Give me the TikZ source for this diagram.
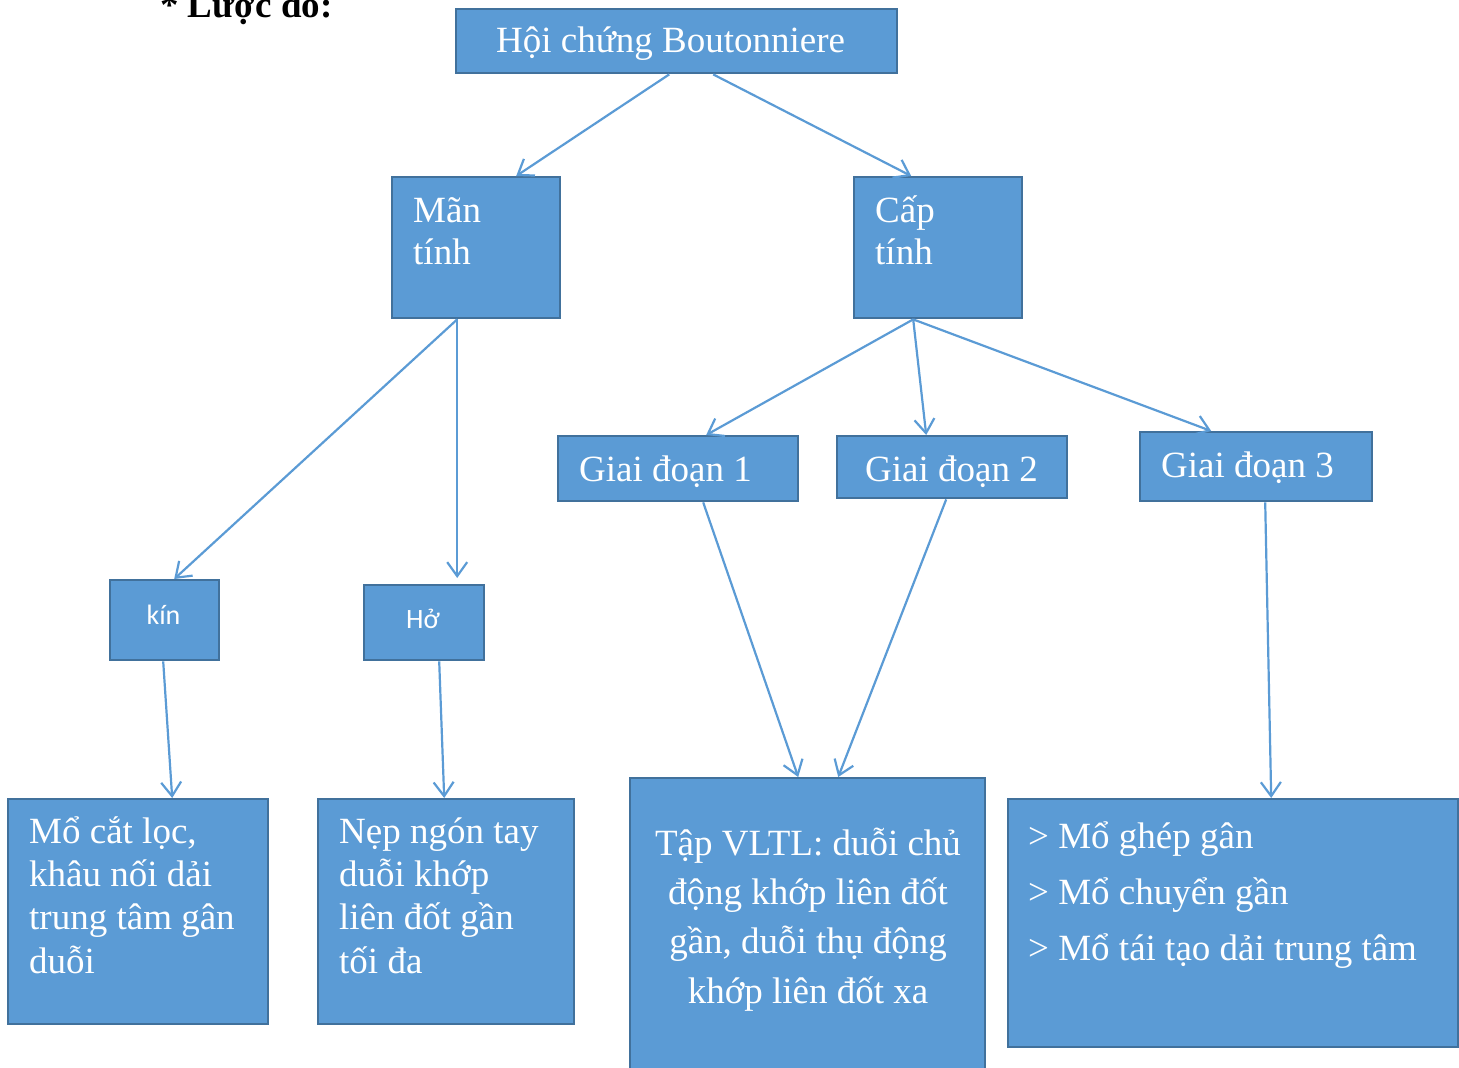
\documentclass[tikz,border=0pt]{standalone}
\usepackage{fontspec}
\setmainfont{Liberation Serif}
\newfontfamily\sansf{Carlito}
\usetikzlibrary{arrows.meta}
\definecolor{boxfill}{RGB}{91,155,213}
\definecolor{boxline}{RGB}{65,113,156}
\definecolor{arrowc}{RGB}{91,155,213}
\tikzset{
  box/.style={draw=boxline, line width=2.4pt, fill=boxfill, inner sep=0pt, anchor=north west},
  txt/.style={text=white, inner sep=0pt, font=\fontsize{37}{43}\selectfont},
  smalltxt/.style={text=white, inner sep=0pt, font=\sansf\fontsize{28}{32}\selectfont},
  conn/.style={draw=arrowc, line width=2.2pt, -{Straight Barb[length=14pt,width=20pt,line width=2.2pt]}}
}
\begin{document}
\begin{tikzpicture}[x=1pt,y=-1pt]
\useasboundingbox (0,0) rectangle (1459,1068);

% title
\node[anchor=base west, inner sep=0pt, font=\bfseries\fontsize{37}{43}\selectfont] (title) at (160,17) {* Lược đồ:};

% boxes
\node[box, minimum width=441pt, minimum height=64pt] (top) at (455,8) {};
\node[box, minimum width=168pt, minimum height=141pt] (man) at (391,176) {};
\node[box, minimum width=168pt, minimum height=141pt] (cap) at (853,176) {};
\node[box, minimum width=240pt, minimum height=65pt] (gd1) at (557,435) {};
\node[box, minimum width=230pt, minimum height=62pt] (gd2) at (836,435) {};
\node[box, minimum width=232pt, minimum height=69pt] (gd3) at (1139,431) {};
\node[box, minimum width=109pt, minimum height=80pt] (kin) at (109,579) {};
\node[box, minimum width=120pt, minimum height=75pt] (ho) at (363,584) {};
\node[box, minimum width=260pt, minimum height=225pt] (b1) at (7,798) {};
\node[box, minimum width=256pt, minimum height=225pt] (b2) at (317,798) {};
\node[box, minimum width=355pt, minimum height=298pt] (b3) at (629,777) {};
\node[box, minimum width=450pt, minimum height=248pt] (b4) at (1007,798) {};

% texts (base anchor = baseline of the last line)
\node[txt, anchor=base west] (ttop) at (496,52) {Hội chứng Boutonniere};
\node[txt, anchor=base west, align=left, font=\fontsize{37}{42}\selectfont] (tman) at (413,264) {Mãn\\tính};
\node[txt, anchor=base west, align=left, font=\fontsize{37}{42}\selectfont] (tcap) at (875,264) {Cấp\\tính};
\node[txt, anchor=base west] (tgd1) at (579,481) {Giai đoạn 1};
\node[txt, anchor=base west] (tgd2) at (865,481) {Giai đoạn 2};
\node[txt, anchor=base west] (tgd3) at (1161,477) {Giai đoạn 3};
\node[smalltxt, anchor=base] (tkin) at (163.5,624) {kín};
\node[smalltxt, anchor=base] (tho) at (423,628) {Hở};
\node[txt, anchor=base west, align=left, font=\fontsize{37}{43.3}\selectfont] (tb1) at (29,973) {Mổ cắt lọc,\\khâu nối dải\\trung tâm gân\\duỗi};
\node[txt, anchor=base west, align=left, font=\fontsize{37}{43.3}\selectfont] (tb2) at (339,973) {Nẹp ngón tay\\duỗi khớp\\liên đốt gần\\tối đa};
\node[txt, anchor=base, align=center, font=\fontsize{37}{49.3}\selectfont] (tb3) at (808,1003) {Tập VLTL: duỗi chủ\\động khớp liên đốt\\gần, duỗi thụ động\\khớp liên đốt xa};
\node[txt, anchor=base west, align=left, font=\fontsize{37}{56}\selectfont] (tb4) at (1028,960) {> Mổ ghép gân\\> Mổ chuyển gần\\> Mổ tái tạo dải trung tâm};

% connectors
\draw[conn] ([xshift=-7.5pt]top.south) -- ([xshift=40pt]man.north);
\draw[conn] ([xshift=36.5pt]top.south) -- ([xshift=-27pt]cap.north);
\draw[conn] ([xshift=-19pt]man.south) -- ([xshift=9.5pt]kin.north);
\draw[conn] ([xshift=-19pt]man.south) -- ([xshift=33pt,yshift=6pt]ho.north);
\draw[conn] ([xshift=-25pt]cap.south) -- ([xshift=28pt]gd1.north);
\draw[conn] ([xshift=-25pt]cap.south) -- ([xshift=-26pt]gd2.north);
\draw[conn] ([xshift=-25pt]cap.south) -- ([xshift=-45pt]gd3.north);
\draw[conn] ([xshift=-1.5pt]kin.south) -- ([xshift=34pt]b1.north);
\draw[conn] ([xshift=15pt]ho.south) -- ([xshift=-2pt]b2.north);
\draw[conn] ([xshift=25pt]gd1.south) -- ([xshift=-9.5pt]b3.north);
\draw[conn] ([xshift=-6pt]gd2.south) -- ([xshift=30.5pt]b3.north);
\draw[conn] ([xshift=9pt]gd3.south) -- ([xshift=38pt]b4.north);
\end{tikzpicture}
\end{document}
